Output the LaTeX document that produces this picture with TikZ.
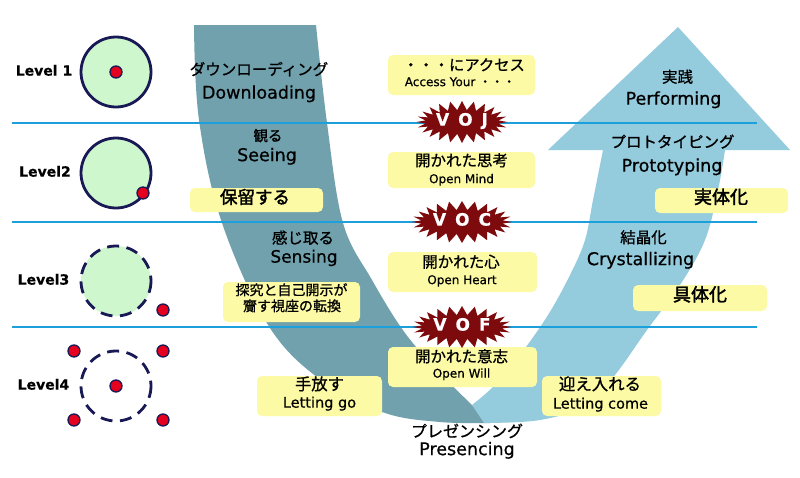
\documentclass[tikz,border=0pt]{standalone}
\usepackage{fontspec}
\setmainfont{DejaVu Sans}[FakeBold=0.6]
\newfontfamily\jp{Noto Sans CJK JP}[FakeBold=0.9]
\newfontfamily\jpb{Noto Sans CJK JP}[FakeBold=2.2]
\usetikzlibrary{shapes.symbols}
\definecolor{darkband}{RGB}{112,161,173}
\definecolor{lightband}{RGB}{148,203,221}
\definecolor{hline}{RGB}{27,160,220}
\definecolor{navy}{RGB}{25,25,85}
\definecolor{ringfill}{RGB}{206,247,206}
\definecolor{dotred}{RGB}{228,0,30}
\definecolor{boxy}{RGB}{252,250,165}
\definecolor{burstred}{RGB}{125,10,12}
\newcommand\myfs[1]{\fontsize{#1}{#1}\selectfont}
\begin{document}
\begin{tikzpicture}[x=1pt,y=-1pt,
  txt/.style={inner sep=0pt,text height=0.72em,text depth=0pt},
  jl/.style={txt,font=\jp\myfs{15.5}},
  jb/.style={txt,font=\jpb\myfs{17.5}},
  js/.style={txt,font=\jp\myfs{14}},
  el/.style={txt,font=\myfs{17.5}},
  em/.style={txt,font=\myfs{14.5}},
  es/.style={txt,font=\myfs{12}},
  lvl/.style={txt,font=\bfseries\myfs{14}},
  ybox/.style={fill=boxy,rounded corners=5pt,inner sep=0pt},
  ring/.style={draw=navy,line width=2.8pt},
  dashring/.style={ring,dash pattern=on 12pt off 7.5pt},
  dot/.style={circle,fill=dotred,draw=navy,line width=1.3pt,minimum size=12pt,inner sep=0pt},
  burst/.style={starburst,fill=burstred,starburst points=24,starburst point height=9pt,
    random starburst=0,minimum width=86pt,minimum height=42pt,inner sep=0pt,
    text=white,font=\bfseries\myfs{17},text height=0.72em,text depth=0pt},
  sep/.style={draw=hline,line width=2.7pt}
]
\useasboundingbox (0,0) rectangle (800,477);
\fill[white] (0,0) rectangle (800,477);

% U bands
\fill[darkband] plot[smooth,tension=0.6] coordinates {(194,25) (199,120) (222,223) (270,328) (325,383) (385,413) (440,422) (490,423)}
  -- (472,405) -- plot[smooth,tension=0.6] coordinates {(472,405) (440,373) (405,333) (372,280) (343,223) (327,123) (316,25)} -- cycle;
\fill[lightband] plot[smooth,tension=0.6] coordinates {(484,423) (540,420) (587,405) (615,375) (647,330) (680,285) (705,240) (718,190) (725,150)}
  -- (790,150) -- (678,27) -- (548,150) -- (603,150)
  -- plot[smooth,tension=0.6] coordinates {(603,150) (593,200) (585,240) (570,275) (548,315) (520,355) (495,385) (472,405)} -- cycle;

% separator lines
\coordinate (l1a) at (12,123); \coordinate (l1b) at (757,123);
\coordinate (l2a) at (12,222); \coordinate (l2b) at (757,222);
\coordinate (l3a) at (12,327); \coordinate (l3b) at (757,327);
\draw[sep] (l1a) -- (l1b);
\draw[sep] (l2a) -- (l2b);
\draw[sep] (l3a) -- (l3b);

% levels
\node[lvl] (lv1) at (44,72) {Level 1};
\node[lvl] (lv2) at (45,173) {Level2};
\node[lvl] (lv3) at (43.5,281) {Level3};
\node[lvl] (lv4) at (43.5,386) {Level4};

\draw[ring,fill=ringfill] (116,72) circle (35);
\node[dot] (d1) at (116,72) {};
\draw[ring,fill=ringfill] (116,173) circle (35);
\node[dot] (d2) at (143,193) {};
\fill[ringfill] (116,281) circle (35);
\draw[dashring] (116,281) circle (35);
\node[dot] (d3) at (163,310) {};
\draw[dashring] (116,386) circle (35);
\node[dot] (d4) at (116,386) {};
\node[dot] (d4a) at (74,351) {};
\node[dot] (d4b) at (163,351) {};
\node[dot] (d4c) at (74,420) {};
\node[dot] (d4d) at (163,420) {};

% left arm texts
\node[jl] (dlj) at (259,71.5) {ダウンローディング};
\node[el] (dle) at (259,95) {Downloading};
\node[jl,font=\jp\myfs{14.5}] (sej) at (268,137.5) {観る};
\node[el] (see) at (267,157.5) {Seeing};
\node[ybox,minimum width=133pt,minimum height=24pt] (hb) at (256.5,200) {};
\node[jb] (hbt) at (255,200) {保留する};
\node[jl] (snj) at (303,240) {感じ取る};
\node[el,font=\myfs{17}] (sne) at (304,259) {Sensing};
\node[ybox,minimum width=137pt,minimum height=40pt] (tb) at (291.5,302) {};
\node[js] (tb1) at (291.5,291.5) {探究と自己開示が};
\node[js] (tb2) at (292,307.5) {齎す視座の転換};
\node[ybox,minimum width=125pt,minimum height=40pt] (lgb) at (319.5,396) {};
\node[jl,font=\jp\myfs{16.3}] (lgj) at (319.5,386.5) {手放す};
\node[em] (lge) at (319.5,404) {Letting go};

% middle column
\node[ybox,minimum width=147pt,minimum height=40pt] (acb) at (461.5,75) {};
\node[jl,font=\jp\myfs{15.3}] (acj) at (464,67) {・・・にアクセス};
\node[es] (ace) at (460,82.5) {Access Your {\jp ・・・}};
\node[ybox,minimum width=147pt,minimum height=36pt] (omb) at (461.5,170) {};
\node[jl] (omj) at (461.5,162.5) {開かれた思考};
\node[es] (ome) at (461.5,179.5) {Open Mind};
\node[ybox,minimum width=149pt,minimum height=40pt] (ohb) at (462.5,272) {};
\node[jl] (ohj) at (461,264) {開かれた心};
\node[es] (ohe) at (462,280.5) {Open Heart};
\node[ybox,minimum width=149pt,minimum height=40pt] (owb) at (462.5,367) {};
\node[jl] (owj) at (461.5,358.5) {開かれた意志};
\node[es] (owe) at (461.5,374) {Open Will};
\node[burst] (voj) at (462,122) {V\hspace{9pt}O\hspace{9pt}J};
\node[burst] (voc) at (462,222) {V\hspace{9pt}O\hspace{9pt}C};
\node[burst] (vof) at (462,327) {V\hspace{9pt}O\hspace{9pt}F};
\node[jl,font=\jp\myfs{16}] (prj) at (467,433.5) {プレゼンシング};
\node[el] (pre) at (467,451.5) {Presencing};

% right arm texts
\node[jl] (pfj) at (677.5,79) {実践};
\node[el] (pfe) at (673.5,101) {Performing};
\node[jl] (ptj) at (672.5,144) {プロトタイピング};
\node[el] (pte) at (672,168) {Prototyping};
\node[ybox,minimum width=133pt,minimum height=25pt] (jtb) at (721.5,200.5) {};
\node[jb,font=\jpb\myfs{18}] (jtt) at (721,200) {実体化};
\node[jl] (crj) at (643.5,239.5) {結晶化};
\node[el] (cre) at (640.5,261.5) {Crystallizing};
\node[ybox,minimum width=134pt,minimum height=26pt] (gtb) at (700,298) {};
\node[jb,font=\jpb\myfs{18}] (gtt) at (700,297.5) {具体化};
\node[ybox,minimum width=119pt,minimum height=40pt] (lcb) at (601.5,396) {};
\node[jl,font=\jp\myfs{16.4}] (lcj) at (600,386.5) {迎え入れる};
\node[em] (lce) at (600.5,405) {Letting come};
\end{tikzpicture}
\end{document}
